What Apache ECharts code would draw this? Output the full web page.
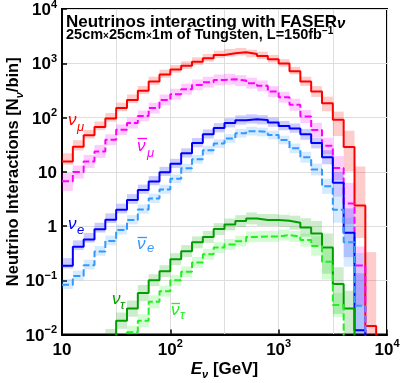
<!DOCTYPE html>
<html><head><meta charset="utf-8">
<script src="https://cdn.jsdelivr.net/npm/echarts@6/dist/echarts.min.js"></script>
<style>html,body{margin:0;padding:0;background:#fff}#c{width:400px;height:383px}</style>
</head><body><div id="c"></div>
<script>
// ---------- data ----------
const binEdges = [10, 12.59, 15.85, 19.95, 25.12, 31.62, 39.81, 50.12, 63.10, 79.43,
  100, 125.9, 158.5, 199.5, 251.2, 316.2, 398.1, 501.2, 631.0, 794.3,
  1000, 1259, 1585, 1995, 2512, 3162, 3981, 5012, 6310, 7943];

const numu     = [15.5, 29, 47, 67, 96, 149, 211, 310, 459, 620, 770, 904, 1070, 1235, 1422, 1527, 1592, 1483, 1362, 1185, 990, 715, 459, 301, 184, 91, 28.6, 2.38, 0.0144];
const numuUp   = [0.15, 0.12, 0.1, 0.1, 0.1, 0.1, 0.1, 0.09, 0.09, 0.09, 0.08, 0.08, 0.08, 0.08, 0.08, 0.08, 0.08, 0.08, 0.08, 0.08, 0.08, 0.08, 0.09, 0.1, 0.12, 0.15, 0.3, 0.72, 1.36];
const numuDn   = [0.06, 0.07, 0.06, 0.06, 0.06, 0.06, 0.06, 0.06, 0.06, 0.06, 0.06, 0.06, 0.06, 0.06, 0.06, 0.06, 0.06, 0.06, 0.06, 0.06, 0.06, 0.06, 0.08, 0.1, 0.15, 0.3, 0.45, 0.6, 0.2];

const numubar   = [6.7, 9.9, 15.5, 23.7, 38.9, 59.4, 78.9, 107, 149, 211, 269, 333, 399, 448, 493, 508, 479, 429, 383, 301, 237, 172, 104, 59, 30, 11.7, 2.6, 0.188, 0];
const numubarUp = [0.15, 0.12, 0.12, 0.12, 0.1, 0.1, 0.1, 0.1, 0.1, 0.1, 0.1, 0.1, 0.1, 0.1, 0.1, 0.1, 0.1, 0.1, 0.1, 0.1, 0.1, 0.11, 0.12, 0.13, 0.15, 0.22, 0.38, 0.35, 0];
const numubarDn = [0.18, 0.12, 0.12, 0.12, 0.1, 0.1, 0.1, 0.1, 0.1, 0.1, 0.1, 0.1, 0.1, 0.1, 0.1, 0.1, 0.1, 0.1, 0.1, 0.1, 0.1, 0.11, 0.12, 0.13, 0.15, 0.22, 0.38, 0.75, 0];

const nue     = [0.185, 0.413, 0.566, 0.87, 1.3, 2.0, 3.0, 4.6, 6.6, 9.8, 14.1, 22, 34, 49, 64, 79, 89, 93, 90, 81, 70, 63, 49, 34, 18.5, 6.3, 0.75, 0.012, 0];
const nueUp   = [0.14, 0.12, 0.12, 0.12, 0.12, 0.11, 0.11, 0.1, 0.1, 0.1, 0.09, 0.09, 0.09, 0.09, 0.09, 0.09, 0.09, 0.09, 0.09, 0.09, 0.09, 0.09, 0.1, 0.1, 0.13, 0.2, 0.45, 1.05, 0];
const nueDn   = [0.05, 0.06, 0.06, 0.06, 0.06, 0.07, 0.07, 0.07, 0.07, 0.07, 0.08, 0.08, 0.08, 0.08, 0.08, 0.08, 0.08, 0.08, 0.08, 0.08, 0.08, 0.08, 0.1, 0.1, 0.13, 0.26, 0.45, 0.3, 0];

const nuebar   = [0.083, 0.12, 0.19, 0.34, 0.53, 0.84, 1.29, 2.02, 3.2, 4.7, 7.4, 11.6, 17, 25, 33, 41, 51, 56, 54, 47.5, 38.5, 27, 18.5, 11, 5.4, 2.0, 0.5, 0.034, 0];
const nuebarUp = [0.1, 0.1, 0.1, 0.1, 0.1, 0.1, 0.09, 0.09, 0.09, 0.09, 0.08, 0.08, 0.08, 0.08, 0.08, 0.08, 0.08, 0.08, 0.08, 0.08, 0.08, 0.09, 0.1, 0.11, 0.14, 0.24, 0.45, 0.97, 0];
const nuebarDn = [0.08, 0.08, 0.08, 0.08, 0.08, 0.08, 0.08, 0.08, 0.08, 0.08, 0.08, 0.08, 0.08, 0.08, 0.08, 0.08, 0.08, 0.08, 0.08, 0.08, 0.08, 0.09, 0.1, 0.11, 0.14, 0.24, 0.45, 0.5, 0];

const nutau   = [0, 0, 0, 0, 0.008, 0.018, 0.03, 0.058, 0.1, 0.147, 0.245, 0.344, 0.50, 0.63, 0.877, 1.07, 1.23, 1.38, 1.29, 1.29, 1.25, 1.15, 0.94, 0.73, 0.40, 0.085, 0.030, 0, 0];
const nutauUp = [0, 0, 0, 0, 0.2, 0.15, 0.15, 0.15, 0.11, 0.11, 0.11, 0.11, 0.11, 0.11, 0.11, 0.11, 0.11, 0.11, 0.11, 0.11, 0.11, 0.13, 0.17, 0.23, 0.26, 0.31, 0.33, 0, 0];
const nutauDn = [0, 0, 0, 0, 0.2, 0.15, 0.15, 0.15, 0.11, 0.11, 0.11, 0.11, 0.11, 0.11, 0.11, 0.11, 0.11, 0.11, 0.11, 0.11, 0.11, 0.13, 0.17, 0.23, 0.48, 0.55, 0.46, 0, 0];

const nutaubar   = [0, 0, 0, 0, 0, 0, 0.011, 0.018, 0.040, 0.063, 0.10, 0.143, 0.213, 0.30, 0.40, 0.457, 0.526, 0.63, 0.64, 0.64, 0.68, 0.64, 0.55, 0.43, 0.22, 0.035, 0, 0, 0];
const nutaubarUp = [0, 0, 0, 0, 0, 0, 0.12, 0.12, 0.12, 0.1, 0.1, 0.1, 0.1, 0.1, 0.1, 0.1, 0.1, 0.1, 0.1, 0.1, 0.1, 0.1, 0.12, 0.18, 0.24, 0.22, 0, 0, 0];
const nutaubarDn = [0, 0, 0, 0, 0, 0, 0.12, 0.12, 0.12, 0.1, 0.1, 0.1, 0.1, 0.1, 0.1, 0.1, 0.1, 0.1, 0.1, 0.1, 0.1, 0.1, 0.12, 0.18, 0.33, 0.22, 0, 0, 0];

const xTicks = [10, 100, 1000, 10000];
const xTickLabels = ['{b|10}', '{b|10}{s|2}', '{b|10}{s|3}', '{b|10}{s|4}'];
const yTicks = [0.01, 0.1, 1, 10, 100, 1000, 10000];
const yTickLabels = ['{b|10}{s|\u22122}', '{b|10}{s|\u22121}', '{b|1}', '{b|10}', '{b|10}{s|2}', '{b|10}{s|3}', '{b|10}{s|4}'];

// ---------- helpers ----------
const FONT = '"Liberation Sans", Arial, sans-serif';
const FLOOR = 1e-4;

function tickLabel(ticks, labels) {
  return function (v) {
    for (let i = 0; i < ticks.length; i++) {
      if (Math.abs(Math.log10(v) - Math.log10(ticks[i])) < 1e-6) return labels[i];
    }
    return '';
  };
}

function stepPoints(vals) {
  let first = 0; while (first < vals.length && !(vals[first] > 0)) first++;
  let last = vals.length - 1; while (last >= 0 && !(vals[last] > 0)) last--;
  const pts = [];
  if (first > 0) pts.push([binEdges[first], FLOOR]);
  for (let k = first; k <= last; k++) pts.push([binEdges[k], vals[k]]);
  pts.push([binEdges[last + 1], vals[last]]);
  pts.push([binEdges[last + 1], FLOOR]);
  return pts;
}

function bandData(vals, up, dn) {
  const d = [];
  vals.forEach((v, k) => {
    if (v > 0) d.push([binEdges[k], binEdges[k + 1], v / Math.pow(10, dn[k]), v * Math.pow(10, up[k])]);
  });
  return d;
}

function bandSeries(vals, up, dn, fill) {
  return {
    type: 'custom', xAxisIndex: 0, yAxisIndex: 0, z: 1, silent: true,
    encode: { x: [0, 1], y: [2, 3] },
    data: bandData(vals, up, dn),
    renderItem: function (params, api) {
      const p1 = api.coord([api.value(0), api.value(3)]);
      const p2 = api.coord([api.value(1), api.value(2)]);
      const cs = params.coordSys;
      const r = echarts.graphic.clipRectByRect(
        { x: p1[0], y: p1[1], width: p2[0] - p1[0], height: p2[1] - p1[1] },
        { x: cs.x, y: cs.y, width: cs.width, height: cs.height });
      return r && { type: 'rect', shape: r, style: { fill: fill } };
    }
  };
}

function lineSeries(vals, color, dashed) {
  return {
    type: 'line', xAxisIndex: 0, yAxisIndex: 0, z: 3, silent: true,
    step: 'end', showSymbol: false, symbol: 'none', clip: true,
    data: stepPoints(vals),
    lineStyle: { color: color, width: 2, type: dashed ? [7, 3] : 'solid' }
  };
}

const C = {
  numu: '#ff0000', numubar: '#ff00ff', nue: '#0000ff', nuebar: '#3399ff', nutau: '#009e00', nutaubar: '#22ee22'
};
const B = {
  numu: 'rgba(255,0,0,0.2)', numubar: 'rgba(255,0,255,0.2)', nue: 'rgba(0,0,255,0.2)',
  nuebar: 'rgba(51,153,255,0.2)', nutau: 'rgba(0,158,0,0.2)', nutaubar: 'rgba(34,238,34,0.2)'
};

const labRich = {
  b: { fontSize: 17, fontWeight: 'bold', fontFamily: FONT, color: '#000', lineHeight: 20, verticalAlign: 'bottom' },
  s: { fontSize: 11, fontWeight: 'bold', fontFamily: FONT, color: '#000', lineHeight: 11, verticalAlign: 'top' }
};

function txt(x, y, text, font, color) {
  return { type: 'text', x: x, y: y, silent: true, z: 10,
    style: { text: text, font: font, fill: color, align: 'left', verticalAlign: 'middle', textAlign: 'left', textVerticalAlign: 'middle' } };
}
function bar(x1, x2, y, color) {
  return { type: 'line', silent: true, z: 10, shape: { x1: x1, y1: y, x2: x2, y2: y }, style: { stroke: color, lineWidth: 1.3 } };
}
const NU = 'italic 17px ' + FONT;
const SUB = 'italic 13px ' + FONT;

const chart = echarts.init(document.getElementById('c'), null, { renderer: 'canvas' });
chart.setOption({
  animation: false,
  backgroundColor: '#fff',
  grid: { left: 62, right: 13, top: 9, bottom: 48.5, show: true, borderColor: '#000', borderWidth: 2,
    containLabel: false, outerBoundsMode: 'none' },
  xAxis: [{
    type: 'log', logBase: 10, min: 10, max: 10000,
    axisLine: { show: true, onZero: false, lineStyle: { color: '#000', width: 2 } },
    axisTick: { show: true, inside: true, length: 5, lineStyle: { color: '#000', width: 1.5 } },
    axisLabel: { formatter: tickLabel(xTicks, xTickLabels), rich: labRich, margin: 4, showMinLabel: true, showMaxLabel: true, hideOverlap: false },
    splitLine: { show: false }, minorTick: { show: false },
    name: '{i|E}{s|\u03bd}{b| [GeV]}', nameLocation: 'middle', nameGap: 26, nameMoveOverlap: false,
    nameTextStyle: { rich: {
      i: { fontSize: 17, fontWeight: 'bold', fontStyle: 'italic', fontFamily: FONT, color: '#000', lineHeight: 20, verticalAlign: 'top' },
      s: { fontSize: 11, fontWeight: 'bold', fontStyle: 'italic', fontFamily: FONT, color: '#000', lineHeight: 11, verticalAlign: 'bottom' },
      b: { fontSize: 17, fontWeight: 'bold', fontFamily: FONT, color: '#000', lineHeight: 20, verticalAlign: 'top' } } }
  }, {
    type: 'value', min: 1, max: 4, interval: 0.5, position: 'bottom',
    axisLine: { show: false }, axisTick: { show: false }, axisLabel: { show: false },
    splitLine: { show: true, lineStyle: { color: '#dedede', width: 1 } }
  }],
  yAxis: [{
    type: 'log', logBase: 10, min: 0.01, max: 10000,
    axisLine: { show: true, onZero: false, lineStyle: { color: '#000', width: 2 } },
    axisTick: { show: true, inside: true, length: 5, lineStyle: { color: '#000', width: 1.5 } },
    axisLabel: { formatter: tickLabel(yTicks, yTickLabels), rich: labRich, margin: 5, showMinLabel: true, showMaxLabel: true, hideOverlap: false },
    splitLine: { show: true, lineStyle: { color: '#dedede', width: 1 } },
    name: '{b|Neutrino Interactions [N}{s|\u03bd}{b|/bin]}', nameLocation: 'middle', nameGap: 37, nameRotate: 90, nameMoveOverlap: false,
    nameTextStyle: { rich: {
      b: { fontSize: 16.5, fontWeight: 'bold', fontFamily: FONT, color: '#000', lineHeight: 20, verticalAlign: 'top' },
      s: { fontSize: 11, fontWeight: 'bold', fontStyle: 'italic', fontFamily: FONT, color: '#000', lineHeight: 11, verticalAlign: 'bottom' } } }
  }],
  series: [
    bandSeries(numu, numuUp, numuDn, B.numu),
    bandSeries(numubar, numubarUp, numubarDn, B.numubar),
    bandSeries(nue, nueUp, nueDn, B.nue),
    bandSeries(nuebar, nuebarUp, nuebarDn, B.nuebar),
    bandSeries(nutau, nutauUp, nutauDn, B.nutau),
    bandSeries(nutaubar, nutaubarUp, nutaubarDn, B.nutaubar),
    lineSeries(numu, C.numu, false),
    lineSeries(numubar, C.numubar, true),
    lineSeries(nue, C.nue, false),
    lineSeries(nuebar, C.nuebar, true),
    lineSeries(nutau, C.nutau, false),
    lineSeries(nutaubar, C.nutaubar, true)
  ],
  graphic: [
    txt(66, 22, 'Neutrinos interacting with FASER', 'bold 17px ' + FONT, '#000'),
    txt(337, 24, '\u03bd', 'italic bold 15px ' + FONT, '#000'),
    { type: 'text', x: 66, y: 34, silent: true, z: 10,
      style: { text: '{a|25cm}{x|\u00d7}{a|25cm}{x|\u00d7}{a|1m of Tungsten, L=150fb}{s|\u22121}',
        align: 'left', verticalAlign: 'middle', textAlign: 'left', textVerticalAlign: 'middle',
        rich: {
          a: { font: 'bold 14.5px ' + FONT, fill: '#000', lineHeight: 16, verticalAlign: 'bottom' },
          x: { font: 'bold 10px ' + FONT, fill: '#000', lineHeight: 16, verticalAlign: 'bottom', padding: [0, 0, 1, 0] },
          s: { font: 'bold 10px ' + FONT, fill: '#000', lineHeight: 10, verticalAlign: 'top' } } } },
    // series labels
    txt(68, 120, '\u03bd', NU, C.numu), txt(77, 127, '\u03bc', SUB, C.numu),
    txt(137, 146, '\u03bd', NU, C.numubar), txt(147, 153, '\u03bc', SUB, C.numubar), bar(137.5, 147, 138.5, C.numubar),
    txt(68, 224, '\u03bd', NU, C.nue), txt(77, 230, 'e', SUB, C.nue),
    txt(137, 244, '\u03bd', NU, C.nuebar), txt(147, 248, 'e', SUB, C.nuebar), bar(137.5, 147, 237.5, C.nuebar),
    txt(112, 299, '\u03bd', NU, C.nutau), txt(120, 305, '\u03c4', SUB, C.nutau),
    txt(171, 310, '\u03bd', NU, C.nutaubar), txt(180, 315, '\u03c4', SUB, C.nutaubar), bar(171.5, 180, 303.5, C.nutaubar)
  ]
});
</script></body></html>
